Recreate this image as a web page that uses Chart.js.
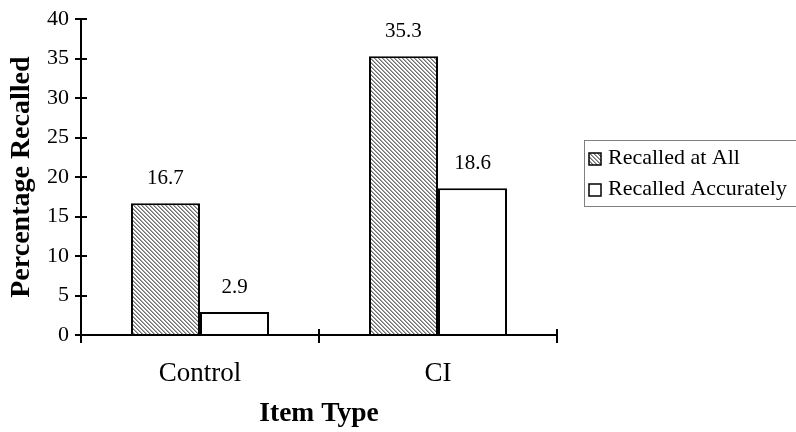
<!DOCTYPE html>
<html>
<head>
<meta charset="utf-8">
<script src="https://cdn.jsdelivr.net/npm/chart.js@4/dist/chart.umd.min.js"></script>
<style>
  html, body { margin: 0; padding: 0; background: #ffffff; }
  #wrap { width: 796px; height: 432px; }
</style>
</head>
<body>
<div id="wrap"><canvas id="chart" width="796" height="432"></canvas></div>
<script>
// Item types on the x axis
const categories = ['Control', 'CI'];
// Percentage of items recalled, by recall criterion
const recalledAtAll = [16.7, 35.3];
const recalledAccurately = [2.9, 18.6];
const seriesNames = ['Recalled at All', 'Recalled Accurately'];
// y axis range and tick step
const yMin = 0, yMax = 40, yStep = 5;

const SERIF = "'Liberation Serif', 'Times New Roman', serif";

// Diagonal "\" hatch used for the first series
function makeHatch() {
  const p = 4;
  const c = document.createElement('canvas');
  c.width = p; c.height = p;
  const g = c.getContext('2d');
  g.fillStyle = '#ffffff';
  g.fillRect(0, 0, p, p);
  for (let y = 0; y < p; y++) {
    for (let x = 0; x < p; x++) {
      const d = ((x - y) % p + p) % p;
      if (d === 0) { g.fillStyle = '#6e6e6e'; g.fillRect(x, y, 1, 1); }
      else if (d === 1) { g.fillStyle = '#a8a8a8'; g.fillRect(x, y, 1, 1); }
    }
  }
  return document.getElementById('chart').getContext('2d').createPattern(c, 'repeat');
}
const hatch = makeHatch();

// Value labels above each bar
const valueLabels = {
  id: 'valueLabels',
  afterDatasetsDraw(chart) {
    const ctx = chart.ctx;
    ctx.save();
    ctx.font = '21px ' + SERIF;
    ctx.fillStyle = '#000';
    ctx.textAlign = 'center';
    ctx.textBaseline = 'middle';
    chart.data.datasets.forEach((ds, i) => {
      chart.getDatasetMeta(i).data.forEach((bar, j) => {
        ctx.fillText(ds.data[j].toFixed(1), bar.x, bar.y - 25);
      });
    });
    ctx.restore();
  }
};

// Tick marks that cross the axis lines (inner half)
const crossTicks = {
  id: 'crossTicks',
  afterDraw(chart) {
    const ctx = chart.ctx;
    const xs = chart.scales.x, ys = chart.scales.y;
    ctx.save();
    ctx.strokeStyle = '#000';
    ctx.lineWidth = 2;
    ctx.beginPath();
    ys.ticks.forEach((t, i) => {
      if (t.value === yMin) return;
      const y = Math.round(ys.getPixelForTick(i));
      ctx.moveTo(xs.left, y);
      ctx.lineTo(xs.left + 6, y);
    });
    for (let k = -0.5; k <= categories.length - 0.5; k += 1) {
      const x = Math.round(xs.getPixelForValue(k));
      ctx.moveTo(x, ys.bottom);
      ctx.lineTo(x, ys.bottom - 6);
    }
    ctx.stroke();
    ctx.restore();
  }
};

// Boxed legend to the right of the plot
const boxLegend = {
  id: 'boxLegend',
  afterDraw(chart) {
    const ctx = chart.ctx;
    const area = chart.chartArea;
    const left = area.right + 27, top = 140, h = 66;
    ctx.save();
    ctx.strokeStyle = '#808080';
    ctx.lineWidth = 1;
    ctx.strokeRect(left + 0.5, top + 0.5, 260, h);
    ctx.font = '22px ' + SERIF;
    ctx.textBaseline = 'middle';
    chart.data.datasets.forEach((ds, i) => {
      const cy = top + 18 + i * 31;
      ctx.fillStyle = ds.backgroundColor;
      ctx.fillRect(left + 5, cy - 5, 12, 12);
      ctx.strokeStyle = '#000';
      ctx.lineWidth = 1.5;
      ctx.strokeRect(left + 5, cy - 5, 12, 12);
      ctx.fillStyle = '#000';
      ctx.fillText(ds.label, left + 24, cy);
    });
    ctx.restore();
  }
};

new Chart(document.getElementById('chart'), {
  type: 'bar',
  data: {
    labels: categories,
    datasets: [
      { label: seriesNames[0], data: recalledAtAll, backgroundColor: hatch,
        borderColor: '#000', borderWidth: 2 },
      { label: seriesNames[1], data: recalledAccurately, backgroundColor: '#ffffff',
        borderColor: '#000', borderWidth: 2 }
    ]
  },
  options: {
    responsive: false,
    animation: false,
    devicePixelRatio: 1,
    layout: { padding: { top: 17, right: 239, left: 0, bottom: 0 } },
    datasets: { bar: { categoryPercentage: 0.58, barPercentage: 1.0, borderSkipped: 'start' } },
    plugins: { legend: { display: false }, tooltip: { enabled: false } },
    scales: {
      x: {
        grid: { display: true, drawOnChartArea: false, drawTicks: true, tickLength: 8,
                color: '#000', lineWidth: 2, offset: true },
        border: { display: true, color: '#000', width: 2 },
        ticks: { color: '#000', font: { family: SERIF, size: 27 }, padding: 15 },
        title: { display: true, text: 'Item Type', color: '#000',
                 font: { family: SERIF, size: 27.5, weight: 'bold' }, padding: { top: 0, bottom: 2 } },
        afterFit(s) { s.height = 97; }
      },
      y: {
        min: yMin, max: yMax,
        grid: { display: true, drawOnChartArea: false, drawTicks: true, tickLength: 6,
                color: '#000', lineWidth: 2 },
        border: { display: true, color: '#000', width: 2 },
        ticks: { stepSize: yStep, color: '#000', font: { family: SERIF, size: 22 }, padding: 6 },
        title: { display: true, text: 'Percentage Recalled', color: '#000',
                 font: { family: SERIF, size: 28, weight: 'bold' }, padding: { top: 5, bottom: 0 } },
        afterFit(s) { s.width = 81; }
      }
    }
  },
  plugins: [valueLabels, crossTicks, boxLegend]
});
</script>
</body>
</html>
